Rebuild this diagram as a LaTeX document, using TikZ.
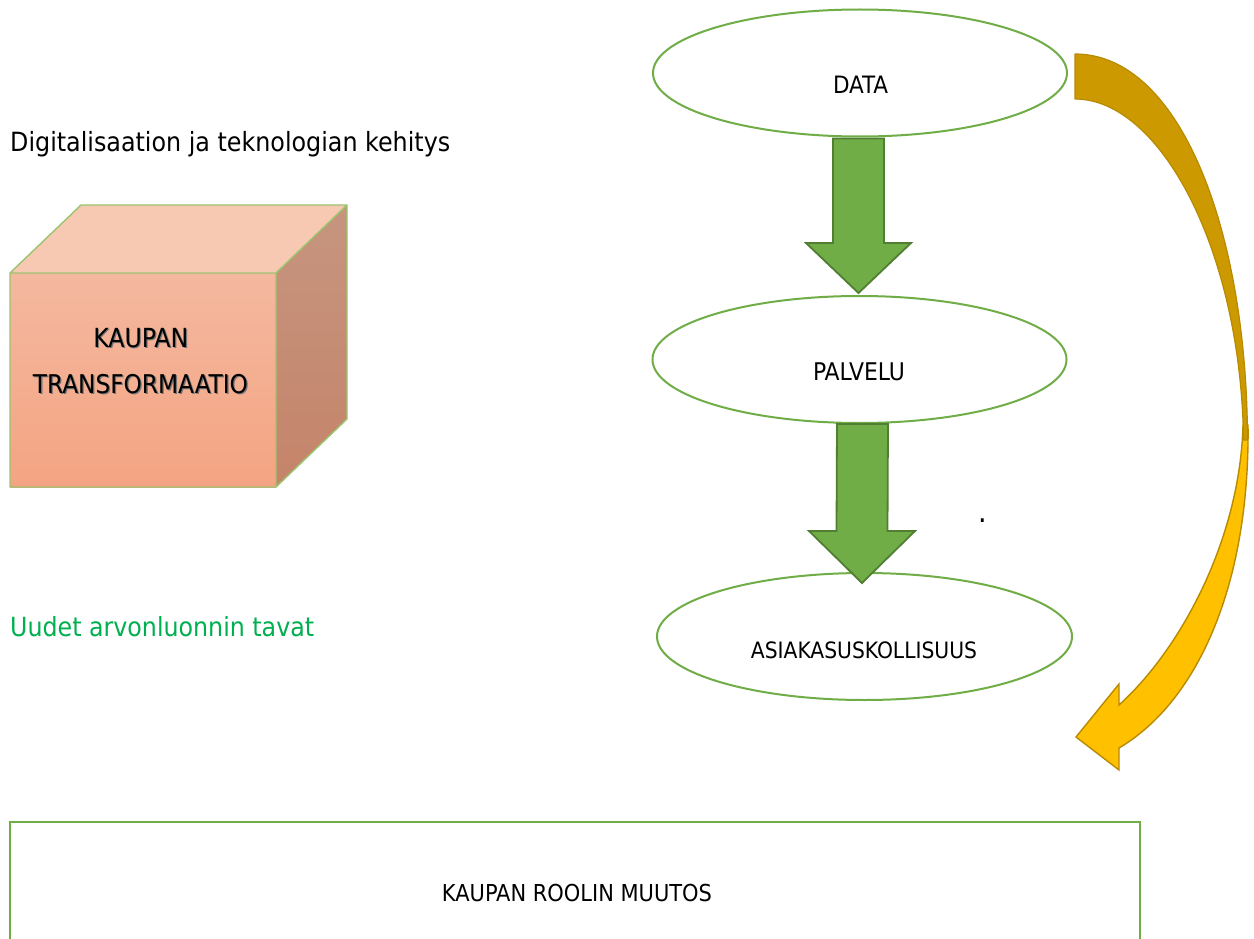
\documentclass[tikz,border=0pt]{standalone}
\usepackage{fontspec}
\setmainfont{DejaVu Sans Condensed}
\usepackage{graphicx}
\usetikzlibrary{calc,shapes.geometric}

\definecolor{leafgreen}{HTML}{70AD47}
\definecolor{leafdark}{HTML}{507E32}
\definecolor{cubeedge}{HTML}{9BC46E}
\definecolor{cubetop}{HTML}{F7C8B2}
\definecolor{cubefronttop}{HTML}{F4B89F}
\definecolor{cubefrontbot}{HTML}{F4A482}
\definecolor{cubesidetop}{HTML}{C6957F}
\definecolor{cubesidebot}{HTML}{C5846A}
\definecolor{goldback}{HTML}{CC9900}
\definecolor{goldfront}{HTML}{FFC000}
\definecolor{goldedge}{HTML}{B88A00}
\definecolor{valuegreen}{HTML}{00B050}

% scale a label to a given width in pt
\newcommand{\fitw}[2]{\resizebox{#1pt}{!}{#2}}

\begin{document}
\begin{tikzpicture}[x=1pt,y=-1pt,
  bubble/.style={ellipse, draw=leafgreen, line width=2pt, fill=white,
    minimum width=414pt, minimum height=127pt, inner sep=0pt},
  lbl/.style={anchor=base, inner sep=0pt},
  lblw/.style={anchor=base west, inner sep=0pt},
  blockarrow/.style={fill=leafgreen, draw=leafdark, line width=1.8pt, line join=miter},
  cubeline/.style={draw=cubeedge, line width=1.4pt, line join=round}]

\useasboundingbox (0,0) rectangle (1254,939);
\fill[white] (0,0) rectangle (1254,939);

% left column texts
\node[lblw] (digi) at (10,152) {\fitw{440}{Digitalisaation ja teknologian kehitys}};
\node[lblw, text=valuegreen] (uudet) at (10,636) {\fitw{304}{Uudet arvonluonnin tavat}};

% the cube
\coordinate (fl) at (10,273);
\coordinate (fr) at (276,273);
\coordinate (bl) at (10,487);
\coordinate (br) at (276,487);
\coordinate (tl) at (81,205);
\coordinate (tr) at (347,205);
\coordinate (rb) at (347,419);
\fill[cubetop] (fl) -- (tl) -- (tr) -- (fr) -- cycle;
\shade[top color=cubesidetop, bottom color=cubesidebot] (fr) -- (tr) -- (rb) -- (br) -- cycle;
\shade[top color=cubefronttop, bottom color=cubefrontbot] (fl) rectangle (br);
\draw[cubeline] (fl) -- (tl) -- (tr) -- (rb) -- (br) -- (bl) -- cycle;
\draw[cubeline] (fl) -- (fr) -- (br) (fr) -- (tr);
\node[lbl, text=black!55] at (142,348.3) {\fitw{95}{KAUPAN}};
\node[lbl] (kaupan) at (140.8,347) {\fitw{95}{KAUPAN}};
\node[lbl, text=black!55] at (141.8,394.3) {\fitw{215}{TRANSFORMAATIO}};
\node[lbl] (transf) at (140.5,393) {\fitw{215}{TRANSFORMAATIO}};

% the three stages
\node[bubble] (data) at (860,73) {};
\node[bubble] (palvelu) at (859.5,359.5) {};
\node[bubble, minimum width=415pt] (asiakas) at (864.5,636.5) {};
\node[lbl] (datat) at (860.5,94) {\fitw{55}{DATA}};
\node[lbl] (palvelut) at (859,380) {\fitw{92}{PALVELU}};
\node[lbl] (asiakast) at (864,658) {\fitw{226}{ASIAKASUSKOLLISUUS}};

% block arrows between the stages
\coordinate (a1s) at ($(data.south)+(-1.5,1)$);
\coordinate (a1t) at (858.5,293);
\draw[blockarrow] ($(a1s)+(-25.5,0)$) -- ($(a1s)+(25.5,0)$) -- ($(a1t)+(25.5,-50)$)
  -- ($(a1t)+(52.5,-50)$) -- (a1t) -- ($(a1t)+(-52.5,-50)$) -- ($(a1t)+(-25.5,-50)$) -- cycle;
\coordinate (a2s) at ($(palvelu.south)+(3,0)$);
\coordinate (a2t) at (862,583);
\draw[blockarrow] ($(a2s)+(-25.5,0)$) -- ($(a2s)+(25.5,0)$) -- ($(a2t)+(25.5,-52)$)
  -- ($(a2t)+(53,-52)$) -- (a2t) -- ($(a2t)+(-53,-52)$) -- ($(a2t)+(-25.5,-52)$) -- cycle;

\node[lbl, font=\fontsize{30}{34}\selectfont] (dot) at (983,522) {.};

% curved arrow from DATA down to the role box
\coordinate (tailtop) at (1075,54);
\coordinate (tailbot) at (1075,99);
\coordinate (tip) at (1076,737);
\fill[goldfront, draw=goldedge, line width=1.4pt, line join=miter]
  (1243,425) .. controls (1240,540) and (1180,650) .. (1119,705)
  -- (1119,684) -- (tip) -- (1119,770) -- (1119,748)
  .. controls (1200,700) and (1250,580) .. (1248,425) -- cycle;
\fill[goldback, draw=goldedge, line width=1.2pt, line join=round]
  (tailtop) .. controls (1180,54) and (1247,230) .. (1247.5,440)
  -- (1243.5,440) .. controls (1241,250) and (1160,99) .. (tailbot) -- cycle;

% the role box, running off the lower edge
\draw[leafgreen, line width=2.5pt] (10,945) -- (10,822) -- (1140,822) -- (1140,945);
\node[lbl] (rooli) at (577,901) {\fitw{270}{KAUPAN ROOLIN MUUTOS}};

\end{tikzpicture}
\end{document}
